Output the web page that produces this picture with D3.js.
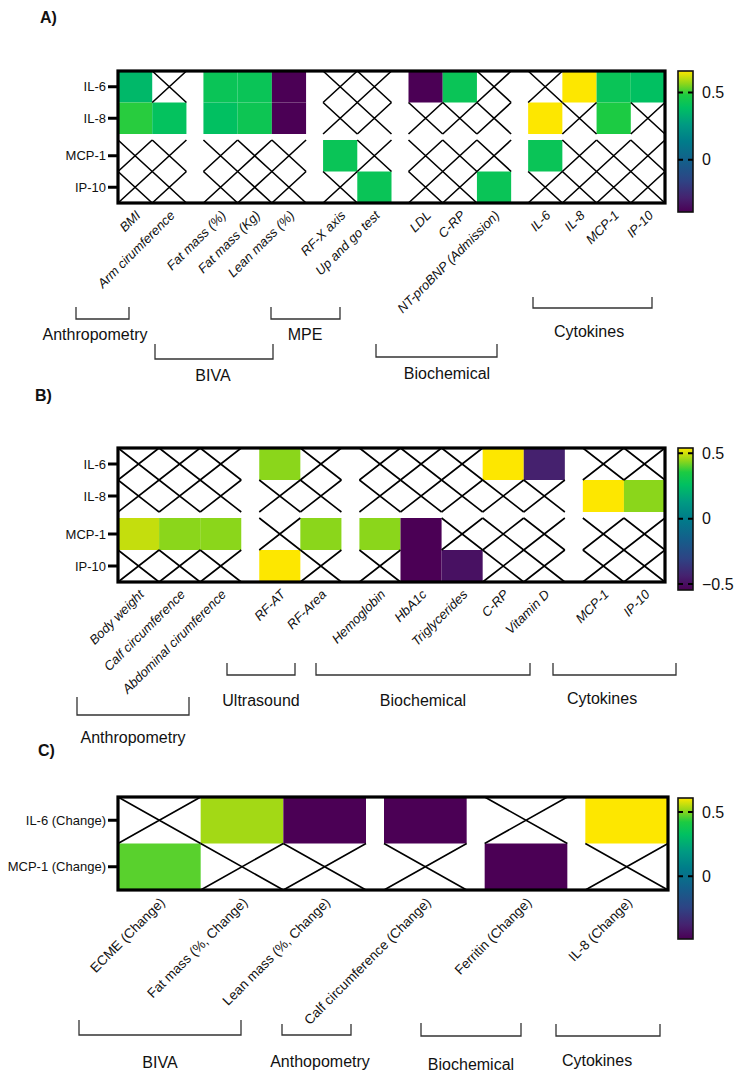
<!DOCTYPE html>
<html>
<head>
<meta charset="utf-8">
<script src="https://cdn.jsdelivr.net/npm/d3@7"></script>
<style>
body { margin: 0; background: #fff; }
svg text { font-family: Arial, "Liberation Sans", sans-serif; fill: #111; }
</style>
</head>
<body>
<div id="chart"></div>
<script>
// correlation heatmaps, empty cells are crossed out (not significant)

// ---- panel A ----
var rowsA = ["IL-6", "IL-8", "MCP-1", "IP-10"];
var colsA = ["BMI", "Arm cirumference", "Fat mass (%)", "Fat mass (Kg)", "Lean mass (%)",
             "RF-X axis", "Up and go test", "LDL", "C-RP", "NT-proBNP (Admission)",
             "IL-6", "IL-8", "MCP-1", "IP-10"];
var colGroupA = [0, 0, 1, 1, 1, 2, 2, 3, 3, 3, 4, 4, 4, 4];
var rowGroupA = [0, 0, 1, 1];
var valuesA = [
  [0.36, null, 0.42, 0.42, -0.39, null, null, -0.39, 0.42, null, null, 0.66, 0.42, 0.39],
  [0.49, 0.40, 0.39, 0.43, -0.39, null, null, null, null, null, 0.66, null, 0.48, null],
  [null, null, null, null, null, 0.42, null, null, null, null, 0.42, null, null, null],
  [null, null, null, null, null, null, 0.42, null, null, 0.42, null, null, null, null]
];
var groupsA = ["Anthropometry", "MPE", "Cytokines", "BIVA", "Biochemical"];
var ticksA = [0.5, 0];

// ---- panel B ----
var rowsB = ["IL-6", "IL-8", "MCP-1", "IP-10"];
var colsB = ["Body weight", "Calf circumference", "Abdominal cirumference", "RF-AT", "RF-Area",
             "Hemoglobin", "HbA1c", "Triglycerides", "C-RP", "Vitamin D", "MCP-1", "IP-10"];
var colGroupB = [0, 0, 0, 1, 1, 2, 2, 2, 2, 2, 3, 3];
var rowGroupB = [0, 0, 1, 1];
var valuesB = [
  [null, null, null, 0.44, null, null, null, null, 0.54, -0.44, null, null],
  [null, null, null, null, null, null, null, null, null, null, 0.54, 0.44],
  [0.49, 0.44, 0.44, null, 0.44, 0.44, -0.545, null, null, null, null, null],
  [null, null, null, 0.54, null, null, -0.545, -0.49, null, null, null, null]
];
var groupsB = ["Ultrasound", "Biochemical", "Cytokines", "Anthropometry"];
var ticksB = [0.5, 0, -0.5];

// ---- panel C ----
var rowsC = ["IL-6 (Change)", "MCP-1 (Change)"];
var colsC = ["ECME (Change)", "Fat mass (%, Change)", "Lean mass (%, Change)",
             "Calf circumference (Change)", "Ferritin (Change)", "IL-8 (Change)"];
var colGroupC = [0, 0, 0, 1, 2, 3];
var rowGroupC = [0, 0];
var valuesC = [
  [null, 0.53, -0.49, -0.49, null, 0.61],
  [0.47, null, null, null, -0.49, null]
];
var groupsC = ["BIVA", "Anthopometry", "Biochemical", "Cytokines"];
var ticksC = [0.5, 0];

// colour ramp (viridis-like, as in the original software)
var rampT = [0, 0.1, 0.22, 0.36, 0.5, 0.62, 0.74, 0.83, 0.91, 1];
var rampC = ["#4b0055", "#45226f", "#2e4384", "#145f8b", "#007c8a", "#009a82",
             "#00c062", "#1ccb42", "#8ed61a", "#fde700"];

var width = 737, height = 1075;

var svg = d3.select("div#chart")
    .append("svg")
    .attr("width", width)
    .attr("height", height);

var defs = svg.append("defs");

function drawPanel(p) {
  var g = svg.append("g");
  var flat = [].concat.apply([], p.values).filter(v => v !== null);
  var ext = d3.extent(flat);
  var ramp = d3.scaleLinear().domain(rampT).range(rampC).interpolate(d3.interpolateRgb);
  var tScale = d3.scaleLinear().domain(ext).range([0, 1]);
  var colour = v => ramp(tScale(v));

  // x: columns with gaps between groups
  var nc = p.cols.length, ngc = d3.max(p.colGroup);
  var cw = (p.right - p.left - ngc * p.colGap) / nc;
  var x = d3.scaleLinear().domain([0, nc + ngc * p.colGap / cw]).range([p.left, p.right]);
  var cx = i => x(i + p.colGroup[i] * p.colGap / cw);

  var nr = p.rows.length, ngr = d3.max(p.rowGroup);
  var rh = (p.bottom - p.top - ngr * p.rowGap) / nr;
  var y = d3.scaleLinear().domain([0, nr + ngr * p.rowGap / rh]).range([p.top, p.bottom]);
  var ry = j => y(j + p.rowGroup[j] * p.rowGap / rh);

  var cells = [];
  p.values.forEach((row, j) => row.forEach((v, i) => cells.push({i: i, j: j, v: v})));

  g.selectAll("rect.cell")
    .data(cells.filter(d => d.v !== null))
    .enter().append("rect")
    .attr("x", d => cx(d.i))
    .attr("y", d => ry(d.j))
    .attr("width", cw)
    .attr("height", rh)
    .attr("fill", d => colour(d.v));

  var empty = cells.filter(d => d.v === null);
  g.selectAll("path.cross")
    .data(empty)
    .enter().append("path")
    .attr("d", d => {
      var x0 = cx(d.i), y0 = ry(d.j), x1 = x0 + cw, y1 = y0 + rh;
      return "M" + x0 + "," + y0 + "L" + x1 + "," + y1 + "M" + x0 + "," + y1 + "L" + x1 + "," + y0;
    })
    .attr("stroke", "#000")
    .attr("stroke-width", 1.6)
    .attr("fill", "none");

  // frame
  g.append("rect")
    .attr("x", p.left).attr("y", p.top)
    .attr("width", p.right - p.left).attr("height", p.bottom - p.top)
    .attr("fill", "none").attr("stroke", "#000").attr("stroke-width", 3.2);

  // row labels + ticks
  p.rows.forEach((r, j) => {
    var yc = ry(j) + rh / 2;
    g.append("line").attr("x1", p.left - 10).attr("x2", p.left)
      .attr("y1", yc).attr("y2", yc).attr("stroke", "#000").attr("stroke-width", 3);
    g.append("text").attr("x", p.left - 12).attr("y", yc).attr("dy", "0.35em")
      .attr("text-anchor", "end").style("font-size", "13px").text(r);
  });

  // column labels
  g.selectAll("text.col")
    .data(p.cols)
    .enter().append("text")
    .attr("transform", (d, i) => "translate(" + (cx(i) + cw / 2 + 3) + "," + (p.bottom + 10) + ") rotate(-45)")
    .attr("dy", "0.35em")
    .attr("text-anchor", "end")
    .style("font-size", p.labelSize)
    .style("font-style", p.italic ? "italic" : "normal")
    .text(d => d);

  // colour bar
  var gid = "grad" + p.id;
  var grad = defs.append("linearGradient").attr("id", gid)
    .attr("x1", 0).attr("y1", 1).attr("x2", 0).attr("y2", 0);
  grad.selectAll("stop").data(rampT).enter().append("stop")
    .attr("offset", d => d).attr("stop-color", (d, k) => rampC[k]);
  var yb = d3.scaleLinear().domain(ext).range([p.bar.y1, p.bar.y0]);
  g.append("rect").attr("x", p.bar.x).attr("y", p.bar.y0)
    .attr("width", p.bar.w).attr("height", p.bar.y1 - p.bar.y0)
    .attr("fill", "url(#" + gid + ")").attr("stroke", "#111").attr("stroke-width", 1.6);
  var ax = g.append("g")
    .attr("transform", "translate(" + (p.bar.x + p.bar.w) + ",0)")
    .call(d3.axisRight(yb).tickValues(p.ticks).tickSize(0).tickPadding(9).tickFormat(d3.format("")));
  ax.select(".domain").remove();
  ax.selectAll("text").style("font-size", "16px").attr("fill", "#111");
  p.ticks.forEach(t => {
    g.append("line").attr("x1", p.bar.x).attr("x2", p.bar.x + p.bar.w + 4)
      .attr("y1", yb(t)).attr("y2", yb(t))
      .attr("stroke", "#000").attr("stroke-width", 2).attr("stroke-dasharray", "5,5");
  });

  // group brackets
  p.brackets.forEach((b, k) => {
    g.append("path")
      .attr("d", "M" + b[0] + "," + b[2] + "V" + b[3] + "H" + b[1] + "V" + b[2])
      .attr("fill", "none").attr("stroke", "#333").attr("stroke-width", 1.3);
    g.append("text").attr("x", b[4]).attr("y", b[5])
      .attr("text-anchor", "middle").style("font-size", "16px").text(p.groups[k]);
  });

  // panel letter
  g.append("text").attr("x", p.letter[1]).attr("y", p.letter[2])
    .style("font-size", "16px").style("font-weight", "bold").text(p.letter[0]);
}

drawPanel({
  id: "A", rows: rowsA, cols: colsA, values: valuesA, colGroup: colGroupA, rowGroup: rowGroupA,
  left: 118, right: 665, top: 71, bottom: 203, colGap: 17, rowGap: 6, italic: true, labelSize: "13px",
  bar: {x: 678, w: 15, y0: 71, y1: 212}, ticks: ticksA, groups: groupsA,
  // [x0, x1, yTop, yLine, labelX, labelY]
  brackets: [[76, 129, 307, 319, 95, 340], [271, 340, 307, 319, 305, 340], [533, 652, 297, 308, 589, 337],
             [155, 273, 344, 359, 213, 381], [376, 497, 344, 357, 447, 379]],
  letter: ["A)", 40, 23]
});

drawPanel({
  id: "B", rows: rowsB, cols: colsB, values: valuesB, colGroup: colGroupB, rowGroup: rowGroupB,
  left: 118, right: 665, top: 448, bottom: 582, colGap: 18, rowGap: 6, italic: true, labelSize: "13px",
  bar: {x: 678, w: 15, y0: 448, y1: 590}, ticks: ticksB, groups: groupsB,
  brackets: [[227, 295, 663, 675, 261, 706], [316, 530, 663, 675, 423, 706], [553, 676, 663, 675, 602, 704],
             [77, 189, 697, 715, 133, 743]],
  letter: ["B)", 35, 401]
});

drawPanel({
  id: "C", rows: rowsC, cols: colsC, values: valuesC, colGroup: colGroupC, rowGroup: rowGroupC,
  left: 118, right: 668, top: 797, bottom: 890, colGap: 18, rowGap: 0, italic: false, labelSize: "13.5px",
  bar: {x: 678, w: 15, y0: 798, y1: 939}, ticks: ticksC, groups: groupsC,
  brackets: [[79, 241, 1020, 1035, 160, 1068], [282, 351, 1024, 1035, 320, 1067], [421, 521, 1023, 1036, 471, 1070],
             [556, 660, 1024, 1036, 597, 1066]],
  letter: ["C)", 38, 756]
});
</script>
</body>
</html>
